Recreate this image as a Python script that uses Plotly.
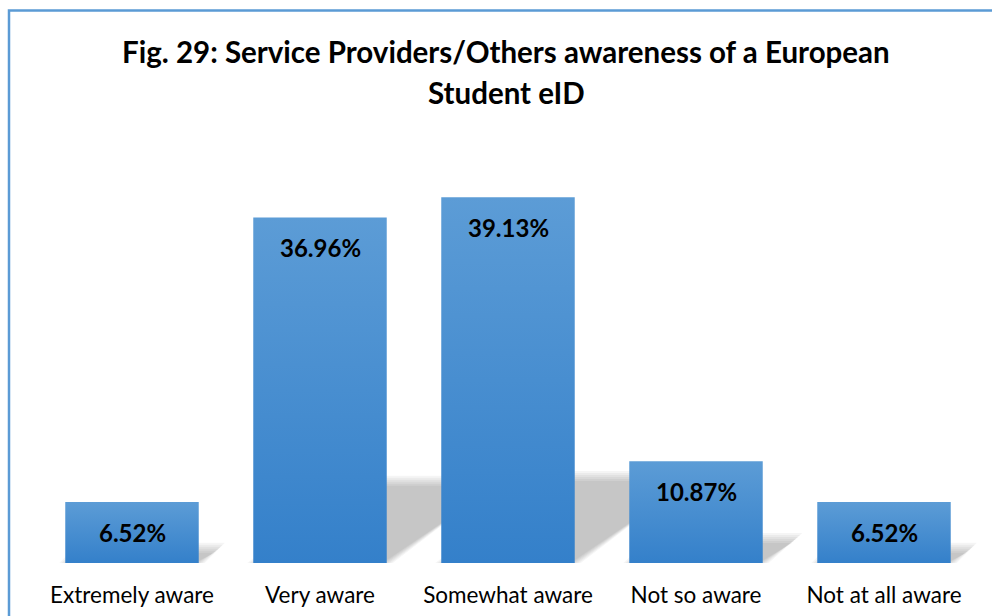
import plotly.graph_objects as go

categories = ["Extremely aware", "Very aware", "Somewhat aware", "Not so aware", "Not at all aware"]
values = [6.52, 36.96, 39.13, 10.87, 6.52]
labels = ["6.52%", "36.96%", "39.13%", "10.87%", "6.52%"]
title_lines = ["Fig. 29: Service Providers/Others awareness of a European", "Student eID"]

FONT = "Lato"
W, H = 992, 616
ML, MR, MT, MB = 38, 14, 150, 53
plot_w = W - ML - MR
plot_h = H - MT - MB
ymax = plot_h / 9.35
px_x = plot_w / 5.0          # pixels per category unit
px_y = plot_h / ymax         # pixels per value unit
bw = 0.71                    # bar width (category units)


def py(ypx):
    """pixel row -> paper y"""
    return (H - MB - ypx) / plot_h


def px(xpx):
    """pixel column -> paper x"""
    return (xpx - ML) / plot_w


fig = go.Figure()

# perspective shadows (behind bars)
for i, v in enumerate(values):
    hs = 0.235 * v
    d = 0.33 * v * px_y / px_x
    x0, x1 = i - bw / 2, i + bw / 2
    for grow in [6, 4, 2, 0, -2, -4]:
        gx = grow / px_x
        gy = grow / px_y
        xs = [x0 - gx, x1 + gx, x1 + d + gx, x0 + d - gx, x0 - gx]
        ys = [0, 0, hs + gy, hs + gy, 0]
        fig.add_trace(go.Scatter(
            x=xs, y=ys, mode="lines", fill="toself",
            line=dict(width=0), fillcolor="rgba(0,0,0,0.04)",
            hoverinfo="skip", showlegend=False))

# bars with vertical gradient
for i, v in enumerate(values):
    x0, x1 = i - bw / 2, i + bw / 2
    fig.add_trace(go.Scatter(
        x=[x0, x1, x1, x0, x0], y=[0, 0, v, v, 0],
        mode="lines", fill="toself", line=dict(width=0),
        fillgradient=dict(type="vertical",
                          colorscale=[[0, "#3480CA"], [1, "#5C9CD6"]]),
        name=categories[i], showlegend=False,
        hovertemplate=categories[i] + ": " + labels[i] + "<extra></extra>"))

# data labels
for i, v in enumerate(values):
    fig.add_annotation(x=i, y=v, text="<b>" + labels[i] + "</b>",
                       showarrow=False, yanchor="middle", yshift=-30,
                       font=dict(family=FONT, size=24, color="#000000"))

# title (two centred lines)
for line, ypx in zip(title_lines, [52, 92]):
    fig.add_annotation(xref="paper", yref="paper", x=px(506), y=py(ypx),
                       xanchor="center", yanchor="middle", showarrow=False,
                       text="<b>" + line + "</b>",
                       font=dict(family=FONT, size=29.5, color="#000000"))

# outer border (cropped chart frame)
fig.add_shape(type="rect", xref="paper", yref="paper",
              x0=px(9), x1=1.2, y0=-0.3, y1=py(10.5),
              line=dict(color="#5B9BD5", width=2.5), layer="above")

fig.update_layout(
    width=W, height=H,
    margin=dict(l=ML, r=MR, t=MT, b=MB, autoexpand=False),
    paper_bgcolor="white", plot_bgcolor="white",
    xaxis=dict(range=[-0.5, 4.5], tickmode="array", tickvals=list(range(5)),
               ticktext=categories, showgrid=False, zeroline=False,
               showline=False, ticks="", ticklabelstandoff=16,
               automargin=False,
               tickfont=dict(family=FONT, size=22.5, color="#000000")),
    yaxis=dict(range=[0, ymax], visible=False, showgrid=False, zeroline=False,
               automargin=False),
    showlegend=False,
)

fig.write_html("out.html", config={"displayModeBar": False},
               post_script="document.body.style.margin='0px';")
